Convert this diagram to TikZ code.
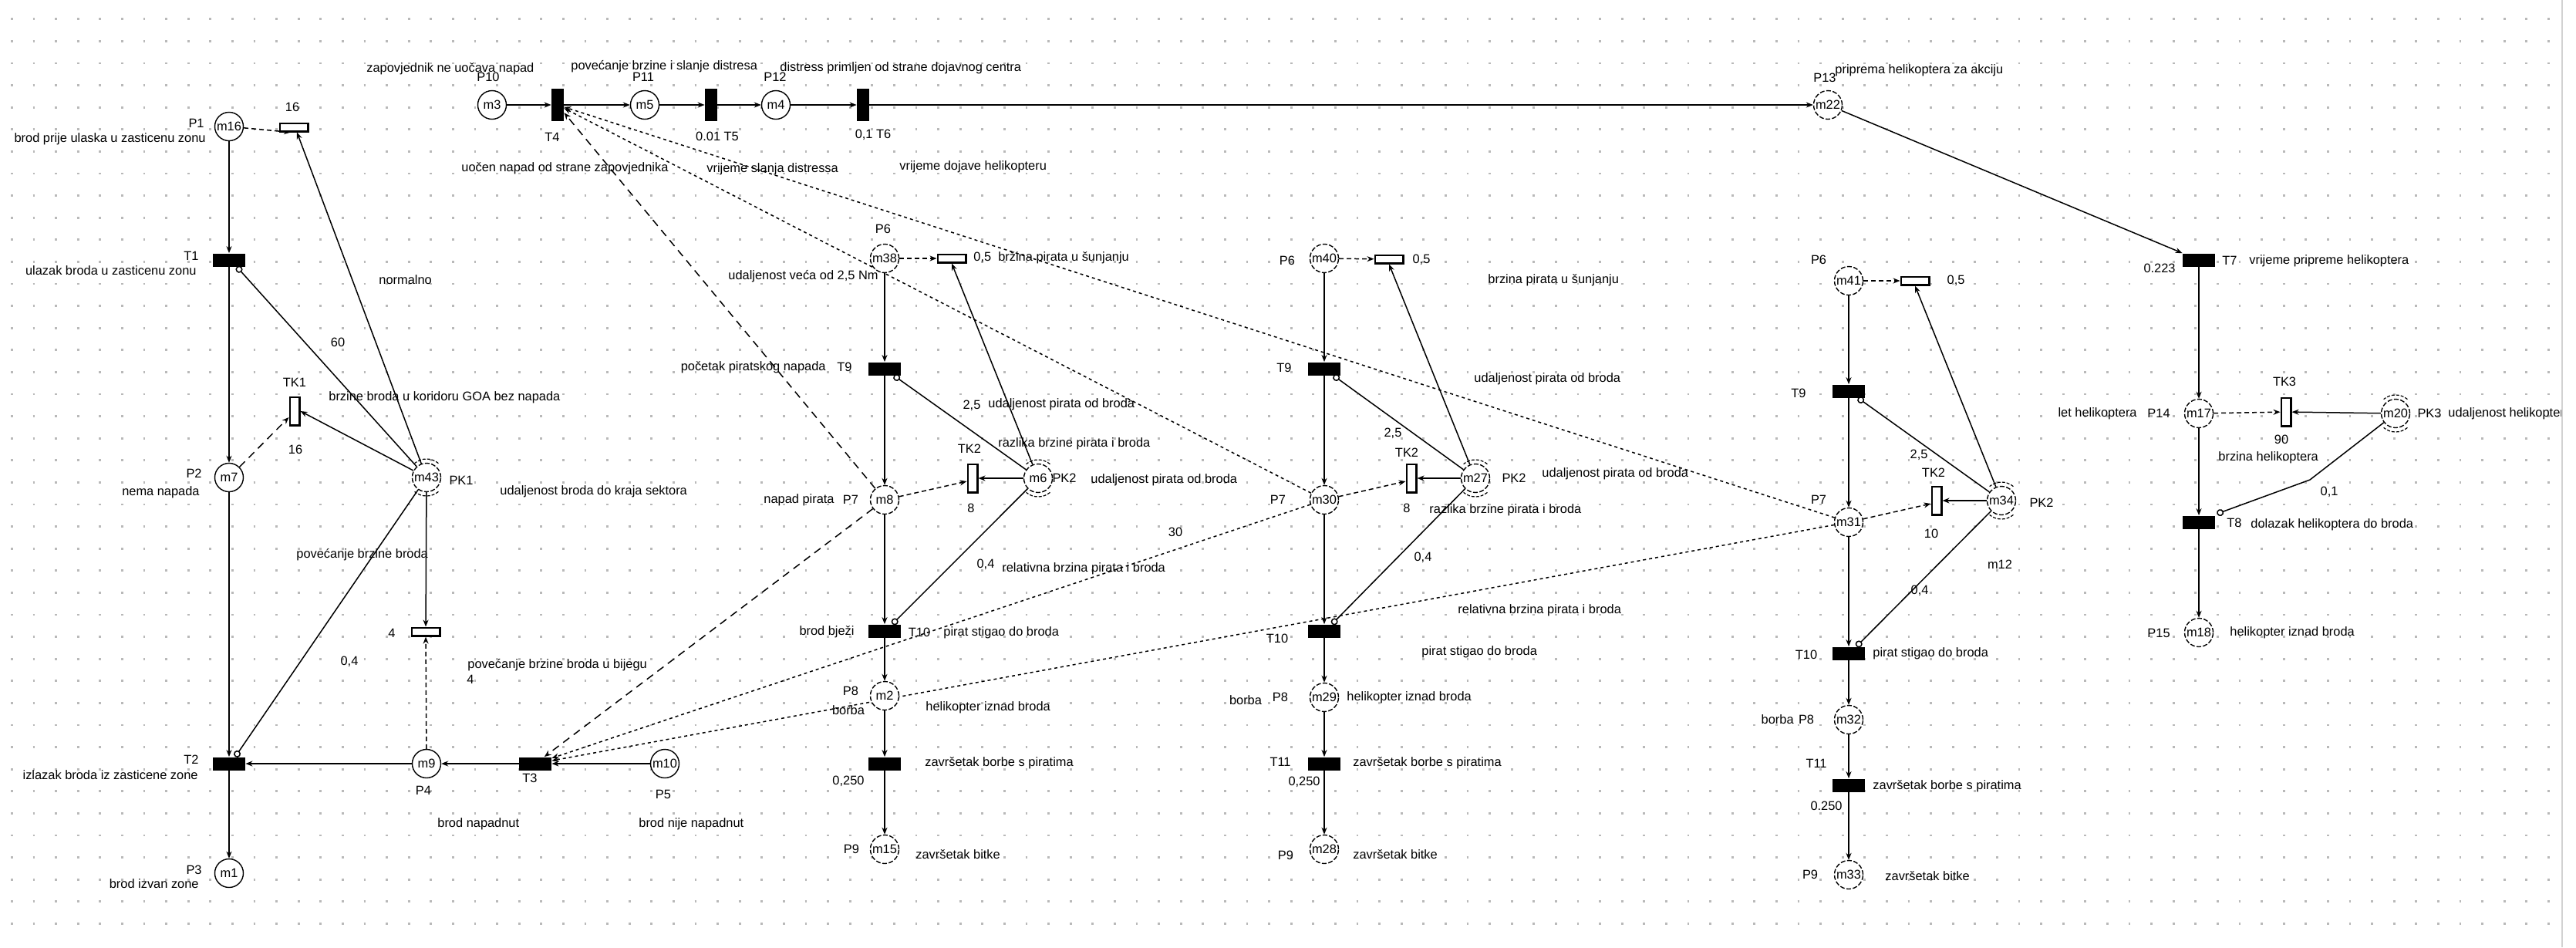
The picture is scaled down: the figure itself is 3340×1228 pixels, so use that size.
\documentclass[tikz,border=0pt]{standalone}
\usepackage{fontspec}
\setmainfont{Liberation Sans}
\usetikzlibrary{arrows.meta}
\pgfdeclarelayer{bg}
\pgfsetlayers{bg,main}
\begin{document}
\begin{tikzpicture}[x=0.5pt,y=-0.5pt,
 every node/.style={font=\fontsize{8.2}{9}\selectfont, inner sep=0pt},
 place/.style={circle,draw,line width=0.7pt,minimum size=18.5pt,fill=white},
 dplace/.style={place,dash pattern=on 3pt off 1.2pt},
 trans/.style={rectangle,fill=black,minimum width=21pt,minimum height=8.5pt},
 vtrans/.style={rectangle,fill=black,minimum width=8pt,minimum height=21pt},
 tbox/.style={rectangle,draw,line width=1.3pt,fill=white,minimum width=18.2pt,minimum height=5.2pt},
 vbox/.style={rectangle,draw,line width=1.3pt,fill=white,minimum width=6.2pt,minimum height=18.2pt},
 parc/.style={draw,line width=0.75pt,-{Stealth[length=4.5pt,width=3.5pt]}},
 inh/.style={draw,line width=0.75pt,-{Circle[open,length=4.5pt,line width=0.75pt]}},
 darc/.style={parc,dash pattern=on 3pt off 2pt},
 ldash/.style={parc,dash pattern=on 5pt off 3.5pt},
 sdash/.style={parc,dash pattern=on 2pt off 2pt},
 pkarc/.style={line width=0.6pt,dash pattern=on 2pt off 1pt},
]
\useasboundingbox (0,0) rectangle (3340,1228);

% ---------------- nodes ----------------
% left column
\node[place] (m16) at (297,164) {m16};
\node[trans] (T1) at (297,337) {};
\node[place] (m7) at (297,619) {m7};
\node[trans] (T2) at (297,990) {};
\node[place] (m1) at (297,1132) {m1};
\node[tbox] (box16) at (381,165) {};
\node[vbox] (TK1) at (382,533) {};
\node[dplace] (m43) at (553,619) {m43};
\node[tbox] (box4) at (552,819) {};
\node[place] (m9) at (553,990) {m9};
\node[trans] (T3) at (694,990) {};
\node[place] (m10) at (862,990) {m10};
% top row
\node[place] (m3) at (638,136) {m3};
\node[vtrans] (T4) at (723,136) {};
\node[place] (m5) at (836,136) {m5};
\node[vtrans] (T5) at (922,136) {};
\node[place] (m4) at (1006,136) {m4};
\node[vtrans] (T6) at (1119,136) {};
\node[dplace] (m22) at (2370,136) {m22};
% helicopter
\node[trans] (T7) at (2851,337) {};
\node[dplace] (m17) at (2851,536) {m17};
\node[vbox] (TK3) at (2964,534) {};
\node[dplace] (m20) at (3106,536) {m20};
\node[trans] (T8) at (2851,677) {};
\node[dplace] (m18) at (2851,820) {m18};
% pirate column 1
\node[dplace] (m38) at (1147,335) {m38};
\node[tbox] (boxA) at (1234,335) {};
\node[trans] (T9a) at (1147,478) {};
\node[dplace] (m8) at (1147,648) {m8};
\node[vbox] (TK2a) at (1261,620) {};
\node[dplace] (m6) at (1346,620) {m6};
\node[trans] (T10a) at (1147,818) {};
\node[dplace] (m2) at (1147,902) {m2};
\node[trans] (T11a) at (1147,990) {};
\node[dplace] (m15) at (1147,1101) {m15};
% pirate column 2
\node[dplace] (m40) at (1717,335) {m40};
\node[tbox] (boxB) at (1801,336) {};
\node[trans] (T9b) at (1717,478) {};
\node[dplace] (m30) at (1717,648) {m30};
\node[vbox] (TK2b) at (1830,620) {};
\node[dplace] (m27) at (1913,620) {m27};
\node[trans] (T10b) at (1717,818) {};
\node[dplace] (m29) at (1717,904) {m29};
\node[trans] (T11b) at (1717,990) {};
\node[dplace] (m28) at (1717,1101) {m28};
% pirate column 3
\node[dplace] (m41) at (2397,364) {m41};
\node[tbox] (boxC) at (2483,364) {};
\node[trans] (T9c) at (2397,507) {};
\node[dplace] (m31) at (2397,677) {m31};
\node[vbox] (TK2c) at (2511,649) {};
\node[dplace] (m34) at (2595,649) {m34};
\node[trans] (T10c) at (2397,847) {};
\node[dplace] (m32) at (2397,933) {m32};
\node[trans] (T11c) at (2397,1018) {};
\node[dplace] (m33) at (2397,1134) {m33};

\coordinate (b8) at (2995,622);

% PK decorations
\foreach \n in {m43,m6,m27,m34,m20}{
  \draw[pkarc] (\n.center) ++(50:12pt) arc[start angle=50,end angle=130,radius=12pt];
  \draw[pkarc] (\n.center) ++(-50:12pt) arc[start angle=-50,end angle=-130,radius=12pt];
}

% ---------------- background: grid and connectors ----------------
\begin{pgfonlayer}{bg}
\fill[white] (0,0) rectangle (3340,1228);
\foreach \k in {0,...,41}
  \draw[gray!55,line width=1.4pt,dash pattern=on 1.4pt off 12.9pt] (14,{24.8+28.6*\k}) -- (3320,{24.8+28.6*\k});
\draw[gray!35,line width=1pt] (3322,0) -- (3322,1228);

% left column
\draw[parc] (m16) -- (T1);
\draw[parc] (T1) -- (m7);
\draw[parc] (m7) -- (T2);
\draw[parc] (T2) -- (m1);
\draw[darc] (m16) -- ([xshift=-2pt]box16.south);
\draw[parc] (m43) -- ([xshift=2pt]box16.south);
\draw[inh] (m43) -- ([xshift=5pt]T1.south);
\draw[parc] (m43) -- (TK1.east);
\draw[ldash] (m7) -- ([yshift=-4pt]TK1.west);
\draw[inh] (m43) -- ([xshift=4pt]T2.north);
\draw[parc] (m43) -- (box4);
\draw[darc] (m9) -- (box4);
\draw[parc] (m9) -- (T2);
\draw[parc] (T3) -- (m9);
\draw[parc] (m10) -- (T3);

% top row
\draw[parc] (m3) -- (T4);
\draw[parc] (T4) -- (m5);
\draw[parc] (m5) -- (T5);
\draw[parc] (T5) -- (m4);
\draw[parc] (m4) -- (T6);
\draw[parc] (T6) -- (m22);
\draw[parc] (m22) -- (T7.north west);
\draw[parc] (T7) -- (m17);
\draw[parc] (m17) -- (T8);
\draw[parc] (T8) -- (m18);
\draw[darc] (m17) -- (TK3);
\draw[parc] (m20) -- (TK3);
\draw[inh] (m20) -- (b8) -- ([xshift=1pt,yshift=1pt]T8.north east);

% pirate columns
\foreach \P/\Bx/\T/\Q/\K/\C/\R/\S/\U/\W in {m38/boxA/T9a/m8/TK2a/m6/T10a/m2/T11a/m15, m40/boxB/T9b/m30/TK2b/m27/T10b/m29/T11b/m28, m41/boxC/T9c/m31/TK2c/m34/T10c/m32/T11c/m33}{
  \draw[parc] (\P) -- (\T);
  \draw[parc] (\T) -- (\Q);
  \draw[parc] (\Q) -- (\R);
  \draw[parc] (\R) -- (\S);
  \draw[parc] (\S) -- (\U);
  \draw[parc] (\U) -- (\W);
  \draw[darc] (\P) -- (\Bx);
  \draw[parc] (\C) -- (\Bx.south);
  \draw[inh] (\C) -- ([xshift=6pt]\T.south);
  \draw[parc] (\C) -- (\K.east);
  \draw[darc] (\Q) -- ([yshift=-2pt]\K.west);
  \draw[inh] (\C) -- ([xshift=5pt]\R.north);
}

% long cross connectors
\draw[ldash] (m8) -- (T4);
\draw[sdash] (m30) -- (T4);
\draw[sdash] (m31) -- (T4);
\draw[ldash] (m8) -- (T3);
\draw[sdash] (m30) -- (T3);
\draw[sdash] (m31) -- (T3);
\end{pgfonlayer}

% ---------------- labels ----------------
% left
\node[anchor=east] at (265,160) {P1};
\node[anchor=east] at (267,180) {brod prije ulaska u zasticenu zonu};
\node at (379,139) {16};
\node[anchor=east] at (258,332) {T1};
\node[anchor=east] at (255,351) {ulazak broda u zasticenu zonu};
\node[anchor=west] at (491,363) {normalno};
\node at (438,444) {60};
\node at (382,496) {TK1};
\node at (383,583) {16};
\node[anchor=west] at (426,515) {brzine broda u koridoru GOA bez napada};
\node[anchor=east] at (262,614) {P2};
\node[anchor=east] at (259,638) {nema napada};
\node at (598,623) {PK1};
\node[anchor=west] at (648,637) {udaljenost broda do kraja sektora};
\node[anchor=west] at (384,719) {povećanje brzine broda};
\node at (508,821) {4};
\node at (453,858) {0,4};
\node[anchor=west] at (606,862) {povećanje brzine broda u bijegu};
\node at (610,881) {4};
\node[anchor=east] at (258,985) {T2};
\node[anchor=east] at (257,1005) {izlazak broda iz zasticene zone};
\node at (549,1025) {P4};
\node at (687,1009) {T3};
\node at (860,1030) {P5};
\node[anchor=west] at (567,1068) {brod napadnut};
\node[anchor=west] at (828,1068) {brod nije napadnut};
\node[anchor=east] at (262,1128) {P3};
\node[anchor=east] at (258,1146) {brod izvan zone};
% top
\node[anchor=west] at (475,89) {zapovjednik ne uočava napad};
\node at (633,100) {P10};
\node at (834,100) {P11};
\node at (1005,100) {P12};
\node[anchor=west] at (740,86) {povećanje brzine i slanje distresa};
\node[anchor=west] at (1011,88) {distress primljen od strane dojavnog centra};
\node at (716,178) {T4};
\node at (930,177) {0.01 T5};
\node at (1132,175) {0,1 T6};
\node[anchor=west] at (598,218) {uočen napad od strane zapovjednika};
\node[anchor=west] at (916,219) {vrijeme slanja distressa};
\node[anchor=west] at (1166,216) {vrijeme dojave helikopteru};
\node at (2366,101) {P13};
\node[anchor=west] at (2379,91) {priprema helikoptera za akciju};
% helicopter
\node at (2891,338) {T7};
\node[anchor=west] at (2916,338) {vrijeme pripreme helikoptera};
\node at (2800,348) {0.223};
\node[anchor=east] at (2771,536) {let helikoptera};
\node at (2799,536) {P14};
\node at (2962,495) {TK3};
\node at (2958,570) {90};
\node[anchor=west] at (2876,593) {brzina helikoptera};
\node at (3150,536) {PK3};
\begin{scope}
\clip (0,0) rectangle (3320,1228);
\node[anchor=west] at (3174,536) {udaljenost helikoptera};
\end{scope}
\node at (3020,638) {0,1};
\node at (2897,678) {T8};
\node[anchor=west] at (2918,680) {dolazak helikoptera do broda};
\node at (2799,821) {P15};
\node[anchor=west] at (2891,820) {helikopter iznad broda};
% column 1
\node at (1145,297) {P6};
\node[anchor=west] at (1262,334) {0,5\ \ bržina pirata u šunjanju};
\node[anchor=east] at (1139,358) {udaljenost veća od 2,5 Nm};
\node[anchor=east] at (1071,476) {početak piratskog napada};
\node at (1095,476) {T9};
\node at (1260,526) {2,5};
\node[anchor=west] at (1281,524) {udaljenost pirata od broda};
\node[anchor=west] at (1294,575) {razlika brzine pirata i broda};
\node at (1257,582) {TK2};
\node at (1380,620) {PK2};
\node[anchor=west] at (1414,622) {udaljenost pirata od broda};
\node[anchor=east] at (1082,648) {napad pirata};
\node at (1103,648) {P7};
\node at (1259,659) {8};
\node at (1524,690) {30};
\node at (1278,732) {0,4};
\node[anchor=west] at (1299,737) {relativna brzina pirata i broda};
\node[anchor=east] at (1108,819) {brod bježi};
\node at (1192,820) {T10};
\node[anchor=west] at (1223,820) {pirat stigao do broda};
\node at (1103,896) {P8};
\node at (1100,921) {borba};
\node[anchor=west] at (1200,917) {helikopter iznad broda};
\node[anchor=west] at (1199,989) {završetak borbe s piratima};
\node at (1100,1013) {0,250};
\node at (1104,1101) {P9};
\node[anchor=west] at (1187,1108) {završetak bitke};
% column 2
\node at (1669,338) {P6};
\node at (1843,337) {0,5};
\node[anchor=west] at (1929,363) {brzina pirata u šunjanju};
\node at (1665,477) {T9};
\node[anchor=west] at (1911,491) {udaljenost pirata od broda};
\node at (1806,562) {2,5};
\node at (1824,587) {TK2};
\node at (1963,620) {PK2};
\node[anchor=west] at (1999,614) {udaljenost pirata od broda};
\node at (1657,648) {P7};
\node at (1824,659) {8};
\node[anchor=west] at (1853,661) {razlika brzine pirata i broda};
\node at (1845,723) {0,4};
\node[anchor=west] at (1890,791) {relativna brzina pirata i broda};
\node at (1656,828) {T10};
\node[anchor=west] at (1843,845) {pirat stigao do broda};
\node at (1615,908) {borba};
\node at (1660,904) {P8};
\node[anchor=west] at (1746,904) {helikopter iznad broda};
\node at (1660,988) {T11};
\node[anchor=west] at (1754,989) {završetak borbe s piratima};
\node at (1691,1014) {0,250};
\node at (1667,1109) {P9};
\node[anchor=west] at (1754,1108) {završetak bitke};
% column 3
\node at (2358,337) {P6};
\node at (2536,364) {0,5};
\node at (2332,510) {T9};
\node at (2488,590) {2,5};
\node at (2507,613) {TK2};
\node at (2358,648) {P7};
\node at (2504,692) {10};
\node at (2647,652) {PK2};
\node at (2593,732) {m12};
\node at (2489,766) {0,4};
\node at (2342,849) {T10};
\node[anchor=west] at (2428,847) {pirat stigao do broda};
\node[anchor=east] at (2326,933) {borba};
\node at (2342,933) {P8};
\node at (2355,990) {T11};
\node at (2368,1045) {0.250};
\node[anchor=west] at (2428,1019) {završetak borbe s piratima};
\node at (2347,1134) {P9};
\node[anchor=west] at (2444,1136) {završetak bitke};
\end{tikzpicture}
\end{document}
